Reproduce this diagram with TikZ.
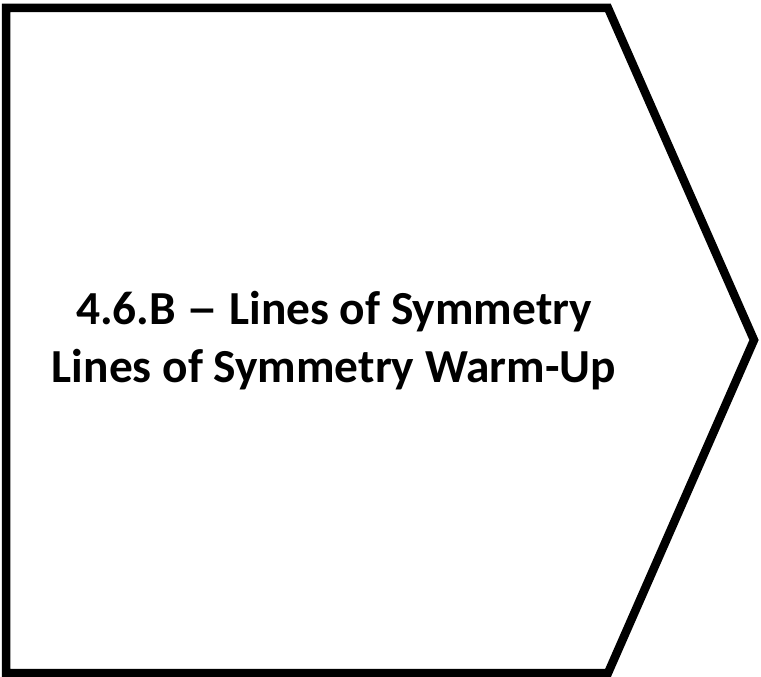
\documentclass[tikz,border=0pt]{standalone}
\usepackage{fontspec}
\usepackage{graphicx}
\setmainfont{Carlito}
\tikzset{
  chevron/.style={draw=black, line width=8.5pt, line join=miter, fill=white},
  label/.style={font=\fontsize{47.4}{58}\selectfont\bfseries, align=center, inner sep=0pt}
}
\begin{document}
\begin{tikzpicture}[x=1pt,y=-1pt]
\useasboundingbox (0,0) rectangle (761,677);
\draw[chevron] (6,8) -- (608,8) -- (754,340) -- (608,673) -- (6,673) -- cycle;
\node[label, anchor=base] (t1) at (334,324) {4.6.B \scalebox{1.35}[1]{–} Lines of Symmetry};
\node[label, anchor=base] (t2) at (334,382) {Lines of Symmetry Warm-Up};
\end{tikzpicture}
\end{document}
